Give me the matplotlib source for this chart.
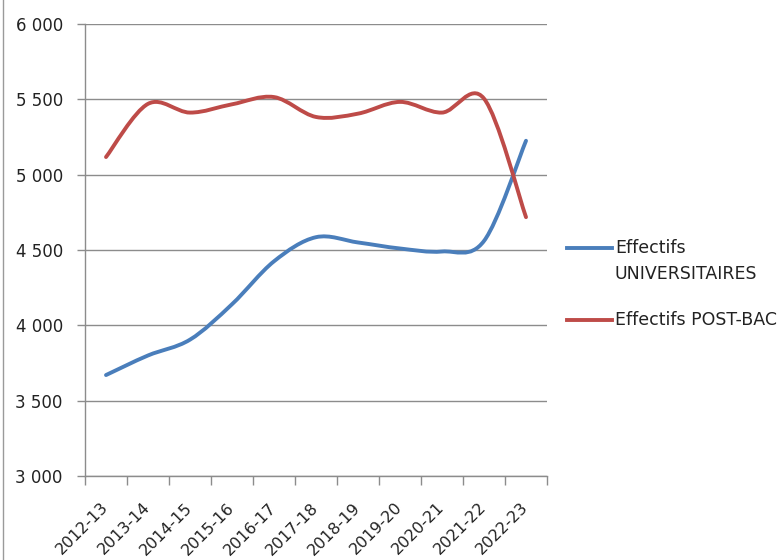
import numpy as np
import matplotlib.pyplot as plt
from matplotlib.path import Path
from matplotlib.patches import PathPatch
from matplotlib.lines import Line2D

# Data
years = ["2012-13", "2013-14", "2014-15", "2015-16", "2016-17", "2017-18",
         "2018-19", "2019-20", "2020-21", "2021-22", "2022-23"]
universitaires = [3670, 3800, 3905, 4140, 4425, 4585, 4550, 4510, 4490, 4560, 5225]
post_bac = [5117, 5470, 5412, 5467, 5515, 5383, 5405, 5483, 5412, 5505, 4718]

blue = "#4A7EBB"
red = "#BE4B48"
grid_col = "#8C8C8C"
text_col = "#222222"


# Excel-like smoothed line (Catmull-Rom converted to Bezier segments)
def smooth_path(xs, ys):
    pts = np.column_stack([xs, ys]).astype(float)
    n = len(pts)
    verts = [pts[0]]
    codes = [Path.MOVETO]
    for i in range(n - 1):
        p0 = pts[max(i - 1, 0)]
        p1 = pts[i]
        p2 = pts[i + 1]
        p3 = pts[min(i + 2, n - 1)]
        c1 = p1 + (p2 - p0) / 6.0
        c2 = p2 - (p3 - p1) / 6.0
        verts += [c1, c2, p2]
        codes += [Path.CURVE4] * 3
    return Path(verts, codes)


fig = plt.figure(figsize=(7.82, 5.6), dpi=100)
ax = fig.add_axes([85 / 782, 1 - 476 / 560, 462 / 782, 452 / 560])

x = np.arange(len(years))
for vals, col in [(universitaires, blue), (post_bac, red)]:
    patch = PathPatch(smooth_path(x, vals), facecolor="none", edgecolor=col,
                      lw=2.8, capstyle="round", joinstyle="round", zorder=3)
    ax.add_patch(patch)

ax.set_xlim(-0.5, len(years) - 0.5)
ax.set_ylim(3000, 6000)
ax.set_yticks(np.arange(3000, 6001, 500))
ax.set_yticklabels([f"{v // 1000} {v % 1000:03d}" for v in range(3000, 6001, 500)],
                   fontsize=12, color=text_col)
ax.yaxis.grid(True, color=grid_col, lw=1.0)
ax.set_axisbelow(True)

ax.set_xticks(x)
ax.set_xticklabels(years, rotation=45, ha="right", va="center",
                   rotation_mode="anchor", fontsize=11.5, color=text_col)
ax.set_xticks(np.arange(-0.5, len(years)), minor=True)
ax.tick_params(axis="x", which="major", length=0, pad=21)
ax.tick_params(axis="x", which="minor", length=6.5, width=1, color=grid_col)
ax.tick_params(axis="y", length=6, width=1, color=grid_col, pad=10)

for side in ["top", "right"]:
    ax.spines[side].set_visible(False)
for side in ["left", "bottom"]:
    ax.spines[side].set_color(grid_col)
    ax.spines[side].set_linewidth(1.0)


# legend drawn by hand: sample line sits on the first text line, like Excel
def fx(px):
    return px / 782


def fy(py):
    return 1 - py / 560


entries = [(blue, "Effectifs", 248), (red, "Effectifs POST-BAC", 320)]
for col, label, yy in entries:
    fig.add_artist(Line2D([fx(567), fx(612)], [fy(yy), fy(yy)], color=col, lw=2.8))
    fig.text(fx(615), fy(yy), label, fontsize=12.5, color=text_col,
             ha="left", va="center")
fig.text(fx(615), fy(274), "UNIVERSITAIRES", fontsize=12.5, color=text_col,
         ha="left", va="center")

# chart border on the left edge
fig.add_artist(Line2D([fx(3), fx(3)], [0, 1], color="#9A9A9A", lw=1.0))

fig.savefig("out.png", dpi=100)
